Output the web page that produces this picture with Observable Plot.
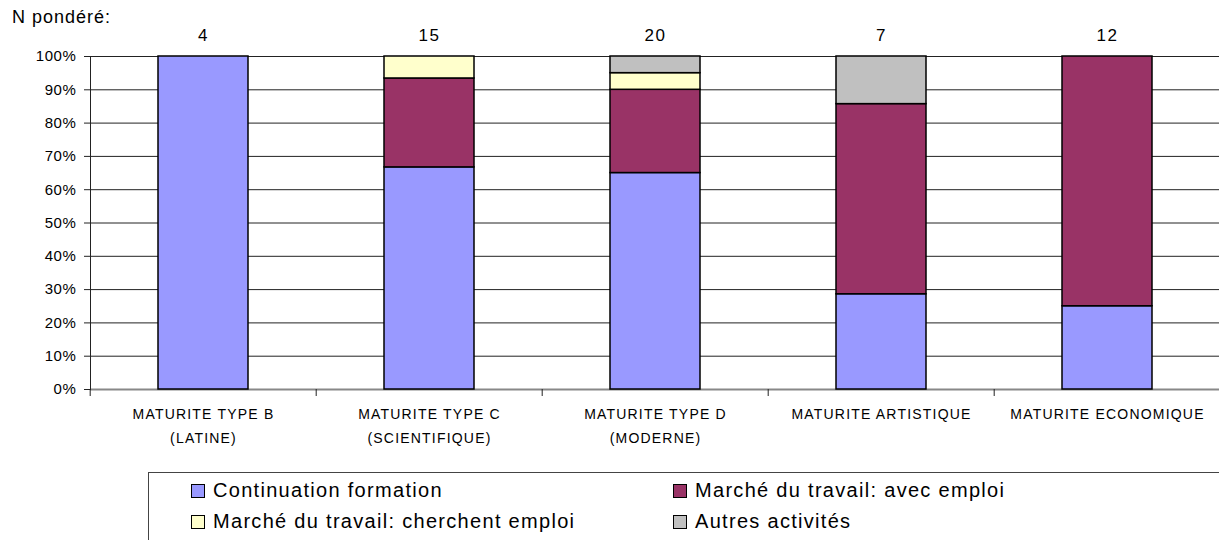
<!DOCTYPE html>
<html><head><meta charset="utf-8">
<script src="https://cdn.jsdelivr.net/npm/d3@7"></script>
<script src="https://cdn.jsdelivr.net/npm/@observablehq/plot@0.6"></script>
<style>
body{margin:0;background:#fff;font-family:"Liberation Sans",Arial,sans-serif;}
#wrap{position:relative;width:1219px;height:540px;overflow:hidden;}
#npond{position:absolute;left:12px;top:7px;font-size:18px;letter-spacing:1px;color:#000;}
#legend{position:absolute;left:148px;top:472px;width:1090px;height:90px;border:1px solid #444;box-sizing:border-box;}
.item{position:absolute;font-size:20px;letter-spacing:1.3px;color:#000;display:flex;align-items:center;white-space:nowrap;}
.sw{width:14px;height:14px;border:1px solid #000;box-sizing:border-box;margin-right:8px;}
.chart .catlab text{letter-spacing:1.2px;}
.chart .nlab text{letter-spacing:1.5px;}
.chart g[aria-label="y-axis tick label"] text{letter-spacing:0.6px;}
</style></head><body><div id="wrap"><div id="npond">N pondéré:</div></div>
<script>
const categories = ["MATURITE TYPE B\n(LATINE)", "MATURITE TYPE C\n(SCIENTIFIQUE)", "MATURITE TYPE D\n(MODERNE)", "MATURITE ARTISTIQUE", "MATURITE ECONOMIQUE"];
const nLabels = [4, 15, 20, 7, 12];
const seriesNames = ["Continuation formation", "Marché du travail: avec emploi", "Marché du travail: cherchent emploi", "Autres activités"];
const continuation = [100, 66.7, 65, 28.6, 25];
const avecEmploi = [0, 26.7, 25, 57.1, 75];
const cherchentEmploi = [0, 6.6, 5, 0, 0];
const autres = [0, 0, 5, 14.3, 0];
const seriesColors = ["#9999FF", "#993366", "#FFFFCC", "#C0C0C0"];
const yTicks = [0, 10, 20, 30, 40, 50, 60, 70, 80, 90, 100];

const seriesValues = [continuation, avecEmploi, cherchentEmploi, autres];
const rows = [];
categories.forEach((c, i) => seriesNames.forEach((s, j) => {
  if (seriesValues[j][i] > 0) rows.push({cat: c, series: s, value: seriesValues[j][i]});
}));

const W = 1219, H = 470, mL = 90, mR = 0, mT = 56, mB = H - 389;
const xRange = [89, 1222];
const step = (xRange[1] - xRange[0]) / categories.length;

const chart = Plot.plot({
  width: W, height: H,
  className: "chart",
  marginLeft: mL, marginRight: mR, marginTop: mT, marginBottom: mB,
  style: {fontFamily: "'Liberation Sans', Arial, sans-serif", background: "#fff", color: "#000"},
  x: {domain: categories, range: xRange, paddingInner: 0.6, paddingOuter: 0.3, axis: null},
  y: {domain: [0, 100], axis: null},
  color: {domain: seriesNames, range: seriesColors},
  marks: [
    Plot.ruleY(yTicks, {y: d => d, stroke: "#222", strokeWidth: 1}),
    Plot.ruleY([0], {stroke: "#888", strokeWidth: 2}),
    Plot.frame({anchor: "left", stroke: "#222"}),
    Plot.axisY({ticks: yTicks, tickFormat: d => d + "%", tickSize: 6, tickPadding: 8, fontSize: 15, stroke: "#222", label: null}),
    Plot.ruleX(categories, {x: d => d, dx: -step / 2, insetTop: 389 - mT, insetBottom: -7, stroke: "#222"}),
    Plot.barY(rows, Plot.stackY({x: "cat", y: "value", fill: "series", order: seriesNames, stroke: "#000", strokeWidth: 1.5})),
    Plot.text(categories, {x: d => d, text: d => d, frameAnchor: "bottom", dy: 12, lineAnchor: "top", lineHeight: 1.75, fontSize: 14, fill: "#000", className: "catlab"}),
    Plot.text(categories, {x: d => d, text: (d, i) => String(nLabels[i]), frameAnchor: "top", lineAnchor: "middle", dy: -21, fontSize: 17, fill: "#000", className: "nlab"})
  ]
});
chart.style.position = "absolute";
chart.style.left = "0px";
chart.style.top = "0px";
const wrap = document.getElementById("wrap");
wrap.insertBefore(chart, wrap.firstChild);

const legend = document.createElement("div");
legend.id = "legend";
const pos = [[42, 6], [524, 6], [42, 37], [524, 37]];
seriesNames.forEach((s, j) => {
  const it = document.createElement("div");
  it.className = "item";
  it.style.left = pos[j][0] + "px";
  it.style.top = pos[j][1] + "px";
  const sw = document.createElement("div");
  sw.className = "sw";
  sw.style.background = seriesColors[j];
  it.appendChild(sw);
  it.appendChild(document.createTextNode(s));
  legend.appendChild(it);
});
wrap.appendChild(legend);
</script></body></html>
